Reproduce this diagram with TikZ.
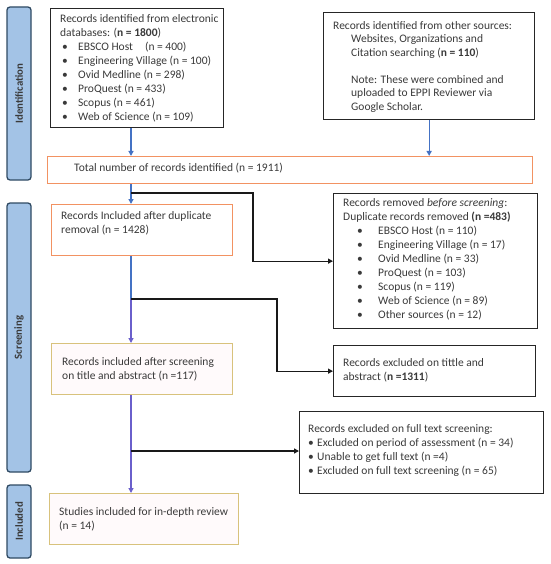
\documentclass[tikz,border=0pt]{standalone}
\usepackage{fontspec}
\setmainfont{Carlito}
\usetikzlibrary{arrows.meta,calc}
\definecolor{barfill}{HTML}{A3C3E6}
\definecolor{barline}{HTML}{2F4A63}
\definecolor{orangeb}{HTML}{F29262}
\definecolor{goldb}{HTML}{D8C27C}
\definecolor{pinkf}{HTML}{FFFAFB}
\definecolor{arrblue}{HTML}{4472C4}
\definecolor{arrpurp}{HTML}{6A5FCB}
\definecolor{txtc}{HTML}{3A3A3A}
\tikzset{
  bar/.style={draw=barline, line width=1.3pt, fill=barfill, rounded corners=3pt, rotate=90, minimum height=24pt, inner sep=0pt, font=\bfseries\fontsize{10.8}{12}\selectfont, text=txtc},
  blackbox/.style={draw=black!85, line width=1.3pt, fill=white, anchor=north west, inner sep=0pt},
  orangebox/.style={draw=orangeb, line width=1.3pt, fill=white, anchor=north west, inner sep=0pt},
  goldbox/.style={draw=goldb, line width=1.3pt, fill=pinkf, anchor=north west, inner sep=0pt},
  txt/.style={anchor=north west, inner sep=0pt, align=left, text=txtc, font=\fontsize{11.5}{14}\selectfont},
  bluearr/.style={draw=arrblue, line width=1.2pt, -{Triangle[length=5pt,width=5pt]}},
  purparr/.style={draw=arrpurp, line width=1.2pt, -{Triangle[length=5pt,width=5pt]}},
  bluel/.style={draw=arrblue, line width=1.2pt},
  blackarr/.style={draw=black!90, line width=1.2pt, -{Triangle[length=5pt,width=5pt]}},
}
\newcommand{\bul}{\hspace*{2pt}\makebox[16pt][l]{\textbullet}}
\newcommand{\bulB}{\hspace*{14pt}\makebox[21pt][l]{\textbullet}}
\newcommand{\bulC}{\makebox[9pt][l]{\textbullet}}
\begin{document}
\begin{tikzpicture}[x=1pt,y=-1pt]
\useasboundingbox (0,0) rectangle (550,564);
% side bars
\node[bar, minimum width=173pt] (idbar) at (19,93.5) {Identification};
\node[bar, minimum width=269pt] (scbar) at (19,337.5) {Screening};
\node[bar, minimum width=73pt] (inbar) at (19,521.5) {Included};
% boxes
\node[blackbox, minimum width=173pt, minimum height=119pt] (b1) at (50,8) {};
\node[txt] (b1t) at (60,14) {Records identified from electronic\\
databases: (\textbf{n = 1800})\\
\bul EBSCO Host\hspace{12pt}(n = 400)\\
\bul Engineering Village (n = 100)\\
\bul Ovid Medline (n = 298)\\
\bul ProQuest (n = 433)\\
\bul Scopus (n = 461)\\
\bul Web of Science (n = 109)};
\node[blackbox, minimum width=211pt, minimum height=107pt] (b2) at (323,12) {};
\node[txt, font=\fontsize{11.5}{13.5}\selectfont] (b2t) at (333,21) {Records identified from other sources:\\
\hspace*{18pt}Websites, Organizations and\\
\hspace*{18pt}Citation searching (\textbf{n = 110})\\[13.5pt]
\hspace*{18pt}Note: These were combined and\\
\hspace*{18pt}uploaded to EPPI Reviewer via\\
\hspace*{18pt}Google Scholar.};
\node[orangebox, minimum width=485pt, minimum height=27pt] (total) at (47,156) {};
\node[txt] (totalt) at (74,163) {Total number of records identified (n = 1911)};
\node[orangebox, minimum width=181pt, minimum height=51pt] (dup) at (51,204) {};
\node[txt] (dupt) at (61,211) {Records Included after duplicate\\removal (n = 1428)};
\node[blackbox, minimum width=204pt, minimum height=135pt] (rem) at (333,193) {};
\node[txt] (remt) at (343,198) {Records removed \textit{before screening}:\\
Duplicate records removed \textbf{(n =483)}\\
\bulB EBSCO Host (n = 110)\\
\bulB Engineering Village (n = 17)\\
\bulB Ovid Medline (n = 33)\\
\bulB ProQuest (n = 103)\\
\bulB Scopus (n = 119)\\
\bulB Web of Science (n = 89)\\
\bulB Other sources (n = 12)};
\node[goldbox, minimum width=181pt, minimum height=51pt] (scr) at (51,343) {};
\node[txt] (scrt) at (62,357) {Records included after screening\\on title and abstract (n =117)};
\node[blackbox, minimum width=202pt, minimum height=51pt] (tit) at (333,345) {};
\node[txt] (titt) at (343,358) {Records excluded on tittle and\\abstract (\textbf{n =1311})};
\node[blackbox, minimum width=244pt, minimum height=82pt] (full) at (299,411) {};
\node[txt] (fullt) at (308,424) {Records excluded on full text screening:\\
\bulC Excluded on period of assessment (n = 34)\\
\bulC Unable to get full text (n =4)\\
\bulC Excluded on full text screening (n = 65)};
\node[goldbox, minimum width=189pt, minimum height=51pt] (stud) at (49,493) {};
\node[txt] (studt) at (59,507) {Studies included for in-depth review\\(n = 14)};
% spine and junctions
\coordinate (sp) at (131,0);
\coordinate (j1) at (131,193);
\coordinate (j2) at (131,299);
\coordinate (j3) at (131,451);
% connectors
\draw[bluearr] (sp |- b1.south) -- (sp |- total.north);
\draw[bluearr] (b2.south) -- (b2.south |- total.north);
\draw[bluearr] (sp |- total.south) -- (sp |- dup.north);
\draw[bluel] (sp |- dup.south) -- (j2);
\draw[purparr] (j2) -- (sp |- scr.north);
\draw[purparr] (sp |- scr.south) -- (sp |- stud.north);
\draw[blackarr] (j1) -- ++(122,0) |- (rem.west);
\draw[blackarr] (j2) -- ++(146,0) |- (tit.west);
\draw[blackarr] (j3) -- (j3 -| full.west);
\end{tikzpicture}
\end{document}
